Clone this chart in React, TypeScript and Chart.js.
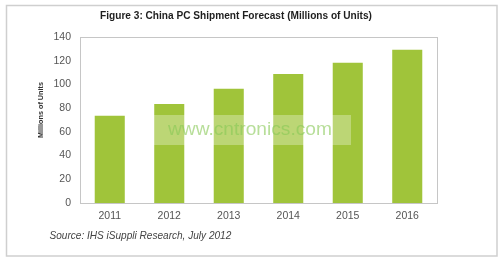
import { useEffect, useRef } from "react";
import { Chart, registerables } from "chart.js";

Chart.register(...registerables);

const years = ["2011", "2012", "2013", "2014", "2015", "2016"];
const shipments = [73.6, 83.5, 96.4, 108.8, 118.3, 129.3];
const yMin = 0;
const yMax = 140;
const yStep = 20;
const titleText = "Figure 3: China PC Shipment Forecast (Millions of Units)";
const yTitleText = "Millions of Units";
const sourceText = "Source: IHS iSuppli Research, July 2012";
const watermarkText = "www.cntronics.com";

const FAMILY = "'Liberation Sans', Arial, sans-serif";

function fitSize(ctx: CanvasRenderingContext2D, text: string, style: string, target: number) {
  ctx.font = `${style} 10px ${FAMILY}`;
  const w = ctx.measureText(text).width;
  return (10 * target) / w;
}

const decorPlugin = {
  id: "decor",
  beforeDraw(chart: any) {
    const ctx = chart.ctx as CanvasRenderingContext2D;
    ctx.save();
    ctx.fillStyle = "#ffffff";
    ctx.fillRect(0, 0, chart.width, chart.height);
    ctx.strokeStyle = "#cfcfcf";
    ctx.lineWidth = 1.5;
    ctx.strokeRect(6.5, 5.5, 490.5, 250.5);
    ctx.restore();
  },
  afterDatasetsDraw(chart: any) {
    const ctx = chart.ctx as CanvasRenderingContext2D;
    const a = chart.chartArea;
    ctx.save();
    ctx.strokeStyle = "#c6c6c6";
    ctx.lineWidth = 1;
    ctx.strokeRect(Math.round(a.left) + 0.5, Math.round(a.top) + 0.5, Math.round(a.right - a.left), Math.round(a.bottom - a.top));
    // watermark
    ctx.fillStyle = "rgba(255,255,255,0.3)";
    ctx.fillRect(152, 115, 199, 30);
    const ws = fitSize(ctx, watermarkText, "normal", 164);
    ctx.font = `normal ${ws}px ${FAMILY}`;
    ctx.fillStyle = "rgba(135,200,85,0.6)";
    ctx.textAlign = "left";
    ctx.textBaseline = "middle";
    ctx.fillText(watermarkText, 168, 130);
    ctx.restore();
  },
  afterDraw(chart: any) {
    const ctx = chart.ctx as CanvasRenderingContext2D;
    ctx.save();
    // title
    const ts = fitSize(ctx, titleText, "bold", 272);
    ctx.font = `bold ${ts}px ${FAMILY}`;
    ctx.fillStyle = "#1e1e1e";
    ctx.textAlign = "center";
    ctx.textBaseline = "middle";
    ctx.fillText(titleText, 236, 16.5);
    // y title
    const ys = fitSize(ctx, yTitleText, "bold", 56);
    ctx.save();
    ctx.translate(41, 110);
    ctx.rotate(-Math.PI / 2);
    ctx.font = `bold ${ys}px ${FAMILY}`;
    ctx.fillStyle = "#333333";
    ctx.fillText(yTitleText, 0, 0);
    ctx.restore();
    // source
    const ss = fitSize(ctx, sourceText, "italic", 182);
    ctx.font = `italic ${ss}px ${FAMILY}`;
    ctx.fillStyle = "#444444";
    ctx.textAlign = "left";
    ctx.fillText(sourceText, 49.5, 236.5);
    ctx.restore();
  },
};

export default function App() {
  const ref = useRef<HTMLCanvasElement | null>(null);
  useEffect(() => {
    if (!ref.current) return;
    const chart = new Chart(ref.current, {
      type: "bar",
      data: {
        labels: years,
        datasets: [
          {
            data: shipments,
            backgroundColor: "#a0c43a",
            borderWidth: 0,
            barPercentage: 0.505,
            categoryPercentage: 1,
          },
        ],
      },
      options: {
        responsive: false,
        animation: false,
        devicePixelRatio: 1,
        layout: { padding: { left: 0, top: 37, right: 66, bottom: 0 } },
        plugins: { legend: { display: false }, tooltip: { enabled: false }, title: { display: false } },
        scales: {
          x: {
            grid: { display: false, drawTicks: false },
            border: { display: false },
            ticks: { color: "#555555", font: { family: FAMILY, size: 10.5 }, padding: 7 },
            afterFit: (s: any) => {
              s.height = 58;
            },
          },
          y: {
            min: yMin,
            max: yMax,
            grid: { display: false, drawTicks: false },
            border: { display: false },
            ticks: { stepSize: yStep, color: "#555555", font: { family: FAMILY, size: 10.5 }, padding: 9 },
            afterFit: (s: any) => {
              s.width = 80;
            },
          },
        },
      },
      plugins: [decorPlugin],
    });
    return () => chart.destroy();
  }, []);
  return (
    <div style={{ position: "fixed", left: 0, top: 0, width: 503, height: 261, background: "#fff" }}>
      <canvas ref={ref} width={503} height={261} style={{ width: 503, height: 261 }} />
    </div>
  );
}
